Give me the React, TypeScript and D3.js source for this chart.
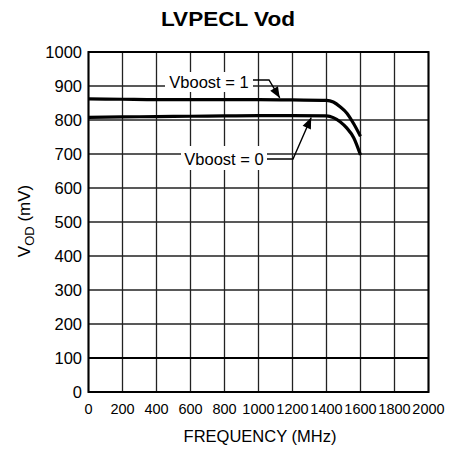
import React from "react";
import * as d3 from "d3";

const freqs = [0, 200, 400, 600, 800, 1000, 1200, 1400, 1440, 1480, 1520, 1560, 1600];
const vboost1 = [862, 861, 860, 860, 860, 860, 859, 858, 853, 839, 820, 789, 752];
const vboost0 = [808, 809, 810, 811, 812, 813, 813, 812, 807, 795, 776, 748, 697];
const xTicks = [0, 200, 400, 600, 800, 1000, 1200, 1400, 1600, 1800, 2000];
const yTicks = [0, 100, 200, 300, 400, 500, 600, 700, 800, 900, 1000];

const FONT = "'Liberation Sans', Arial, Helvetica, sans-serif";

export default function App() {
  const W = 450, H = 451;
  const x = d3.scaleLinear().domain([0, 2000]).range([88.5, 428.5]);
  const y = d3.scaleLinear().domain([0, 1000]).range([392, 52]);
  const line = d3
    .line<number>()
    .x((_, i) => x(freqs[i]))
    .y((d) => y(d))
    .curve(d3.curveMonotoneX);

  const a1tip: [number, number] = [x(1125), y(vboost1[6]) - 2];
  const a0tip: [number, number] = [x(1310), y(vboost0[6]) + 2];

  const arrowHead = (from: [number, number], to: [number, number]) => {
    const ang = Math.atan2(to[1] - from[1], to[0] - from[0]);
    const len = 11, half = 4.5;
    const bx = to[0] - len * Math.cos(ang), by = to[1] - len * Math.sin(ang);
    const px = -Math.sin(ang) * half, py = Math.cos(ang) * half;
    return `M${to[0]},${to[1]}L${bx + px},${by + py}L${bx - px},${by - py}Z`;
  };

  const l1a: [number, number] = [253, 80];
  const l1b: [number, number] = [269, 80];
  const l0a: [number, number] = [267, 159];
  const l0b: [number, number] = [293, 159];

  return (
    <div style={{ position: "absolute", left: 0, top: 0 }}>
      <svg width={W} height={H} style={{ display: "block", background: "#fff" }}>
        <text x={228} y={26} textAnchor="middle" fontFamily={FONT} fontWeight="bold" fontSize={20} textLength={134} lengthAdjust="spacingAndGlyphs">
          LVPECL Vod
        </text>
        {xTicks.map((t) => (
          <line key={"gx" + t} x1={x(t)} x2={x(t)} y1={y(0)} y2={y(1000)} stroke="#222" strokeWidth={1.3} />
        ))}
        {yTicks.map((t) => (
          <line key={"gy" + t} x1={x(0)} x2={x(2000)} y1={y(t)} y2={y(t)} stroke={t === 100 ? "#000" : "#222"} strokeWidth={t === 100 ? 2.2 : 1.3} />
        ))}
        <rect x={x(0)} y={y(1000)} width={x(2000) - x(0)} height={y(0) - y(1000)} fill="none" stroke="#000" strokeWidth={2} />
        <path d={line(vboost1) || ""} fill="none" stroke="#000" strokeWidth={3.2} strokeLinecap="butt" />
        <path d={line(vboost0) || ""} fill="none" stroke="#000" strokeWidth={3.2} strokeLinecap="butt" />
        <rect x={165} y={72} width={88} height={20} fill="#fff" />
        <text x={209} y={87.5} textAnchor="middle" fontFamily={FONT} fontSize={16.5}>Vboost = 1</text>
        <path d={`M${l1a[0]},${l1a[1]}L${l1b[0]},${l1b[1]}L${a1tip[0]},${a1tip[1]}`} fill="none" stroke="#000" strokeWidth={1.4} />
        <path d={arrowHead(l1b, a1tip)} fill="#000" />
        <rect x={181} y={146} width={86} height={24} fill="#fff" />
        <text x={224} y={165} textAnchor="middle" fontFamily={FONT} fontSize={16.5}>Vboost = 0</text>
        <path d={`M${l0a[0]},${l0a[1]}L${l0b[0]},${l0b[1]}L${a0tip[0]},${a0tip[1]}`} fill="none" stroke="#000" strokeWidth={1.4} />
        <path d={arrowHead(l0b, a0tip)} fill="#000" />
        {yTicks.map((t) => (
          <text key={"ly" + t} x={82} y={y(t) + 6} textAnchor="end" fontFamily={FONT} fontSize={16.5}>{t}</text>
        ))}
        {xTicks.map((t) => (
          <text key={"lx" + t} x={x(t)} y={414} textAnchor="middle" fontFamily={FONT} fontSize={14.5}>{t}</text>
        ))}
        <text x={260} y={442} textAnchor="middle" fontFamily={FONT} fontSize={16.5}>FREQUENCY (MHz)</text>
        <text transform="translate(30,221) rotate(-90)" textAnchor="middle" fontFamily={FONT} fontSize={17}>
          V<tspan fontSize={13} dy={4}>OD</tspan>
          <tspan dy={-4}> (mV)</tspan>
        </text>
      </svg>
    </div>
  );
}
